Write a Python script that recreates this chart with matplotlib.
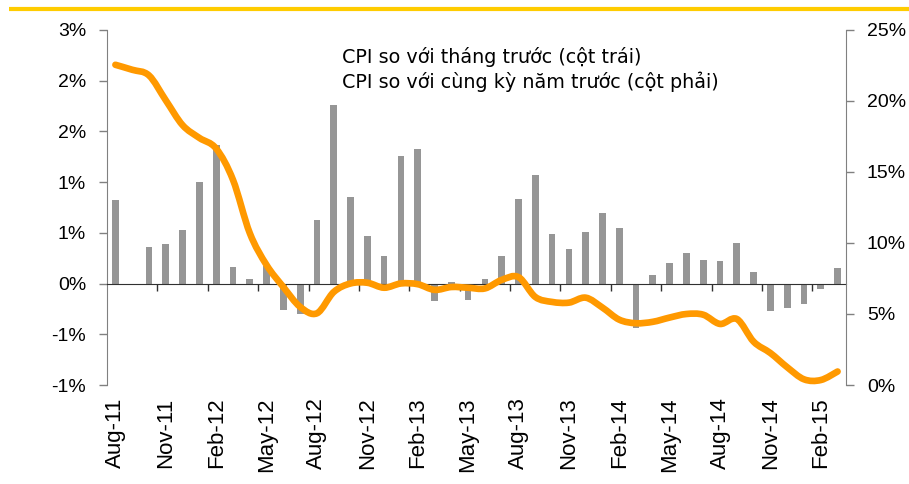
import numpy as np
import matplotlib
matplotlib.use("Agg")
import matplotlib.pyplot as plt
from matplotlib.path import Path
from matplotlib.patches import PathPatch

# ---------------- data ----------------
months = ["Aug-11", "Sep-11", "Oct-11", "Nov-11", "Dec-11", "Jan-12", "Feb-12", "Mar-12",
          "Apr-12", "May-12", "Jun-12", "Jul-12", "Aug-12", "Sep-12", "Oct-12", "Nov-12",
          "Dec-12", "Jan-13", "Feb-13", "Mar-13", "Apr-13", "May-13", "Jun-13", "Jul-13",
          "Aug-13", "Sep-13", "Oct-13", "Nov-13", "Dec-13", "Jan-14", "Feb-14", "Mar-14",
          "Apr-14", "May-14", "Jun-14", "Jul-14", "Aug-14", "Sep-14", "Oct-14", "Nov-14",
          "Dec-14", "Jan-15", "Feb-15", "Mar-15"]

# CPI month-on-month (%), left axis
cpi_mom = [0.82, 0.0, 0.36, 0.39, 0.53, 1.00, 1.37, 0.16,
           0.05, 0.17, -0.26, -0.30, 0.63, 1.76, 0.85, 0.47,
           0.27, 1.26, 1.33, -0.17, 0.02, -0.16, 0.05, 0.27,
           0.83, 1.07, 0.49, 0.34, 0.51, 0.70, 0.55, -0.44,
           0.08, 0.20, 0.30, 0.23, 0.22, 0.40, 0.11, -0.27,
           -0.24, -0.20, -0.05, 0.15]

# CPI year-on-year (%), right axis
cpi_yoy = [22.55, 22.2, 21.8, 20.05, 18.3, 17.4, 16.65, 14.45,
           10.7, 8.45, 6.9, 5.5, 5.05, 6.55, 7.15, 7.2,
           6.85, 7.15, 7.1, 6.7, 6.9, 6.85, 6.8, 7.4,
           7.6, 6.2, 5.85, 5.8, 6.15, 5.45, 4.6, 4.35,
           4.45, 4.75, 5.0, 4.95, 4.3, 4.65, 3.05, 2.25,
           1.25, 0.4, 0.35, 0.95]

tick_label_months = months[::3]
left_ticks = [-1.0, -0.5, 0.0, 0.5, 1.0, 1.5, 2.0, 2.5]
left_tick_labels = ["-1%", "-1%", "0%", "1%", "1%", "2%", "2%", "3%"]
right_ticks = [0, 5, 10, 15, 20, 25]
right_tick_labels = ["0%", "5%", "10%", "15%", "20%", "25%"]
legend_labels = ["CPI so với tháng trước (cột trái)",
                 "CPI so với cùng kỳ năm trước (cột phải)"]

# ---------------- figure ----------------
W, H = 909, 484
fig = plt.figure(figsize=(W / 100, H / 100), dpi=100)
fig.patch.set_facecolor("white")

# gold rule at top
fig.add_artist(plt.Line2D([9 / W, 1.0], [1 - 9 / H, 1 - 9 / H], color="#FFCC00", lw=3.0,
                          transform=fig.transFigure, solid_capstyle="butt"))

left, right, top, bottom = 107, 846, 30, 385
ax = fig.add_axes([left / W, 1 - bottom / H, (right - left) / W, (bottom - top) / H])
n = len(months)
x = np.arange(n)
ax.set_xlim(-0.5, n - 0.5)
ax.set_ylim(-1.0, 2.5)

ax.bar(x, cpi_mom, width=0.4, color="#969696", zorder=2)

tick_font = "Liberation Sans"
ax.set_yticks(left_ticks)
ax.set_yticklabels(left_tick_labels, fontsize=14, family=tick_font)
ax.tick_params(axis="y", length=6, width=1, color="#808080", pad=9, direction="out")

# category axis crossing at zero
for s in ["top", "right"]:
    ax.spines[s].set_visible(False)
ax.spines["left"].set_color("#808080")
ax.spines["bottom"].set_position(("data", 0))
ax.spines["bottom"].set_color("#303030")
ax.set_xticks(np.arange(2.5, n - 1, 3))
ax.set_xticklabels([])
ax.tick_params(axis="x", length=5, width=1, color="#303030", direction="out")

sec = ax.secondary_xaxis("bottom")
sec.set_xticks(x[::3])
sec.set_xticklabels(tick_label_months, rotation=90, fontsize=16, family=tick_font)
sec.tick_params(length=0, pad=9)
sec.spines["bottom"].set_visible(False)

# right axis with smoothed YoY line
ax2 = ax.twinx()
ax2.set_ylim(0, 25)
ax2.set_yticks(right_ticks)
ax2.set_yticklabels(right_tick_labels, fontsize=14, family=tick_font)
ax2.tick_params(axis="y", length=6, width=1, color="#808080", pad=9, direction="out")
for s in ["top", "left", "bottom"]:
    ax2.spines[s].set_visible(False)
ax2.spines["right"].set_color("#808080")

yy = np.asarray(cpi_yoy, dtype=float)
verts = [(x[0], yy[0])]
codes = [Path.MOVETO]
for i in range(n - 1):
    p0 = np.array([x[max(i - 1, 0)], yy[max(i - 1, 0)]])
    p1 = np.array([x[i], yy[i]])
    p2 = np.array([x[i + 1], yy[i + 1]])
    p3 = np.array([x[min(i + 2, n - 1)], yy[min(i + 2, n - 1)]])
    c1 = p1 + (p2 - p0) / 6.0
    c2 = p2 - (p3 - p1) / 6.0
    verts += [tuple(c1), tuple(c2), tuple(p2)]
    codes += [Path.CURVE4] * 3
ax2.add_patch(PathPatch(Path(verts, codes), facecolor="none", edgecolor="#FF9900",
                        lw=4.8, capstyle="round", joinstyle="round", zorder=3))

# legend (text only)
fig.text(342 / W, 1 - 63 / H, legend_labels[0], fontsize=13.75, family="DejaVu Sans",
         va="baseline", ha="left")
fig.text(342 / W, 1 - 88 / H, legend_labels[1], fontsize=13.75, family="DejaVu Sans",
         va="baseline", ha="left")

fig.savefig("out.png", dpi=100)
